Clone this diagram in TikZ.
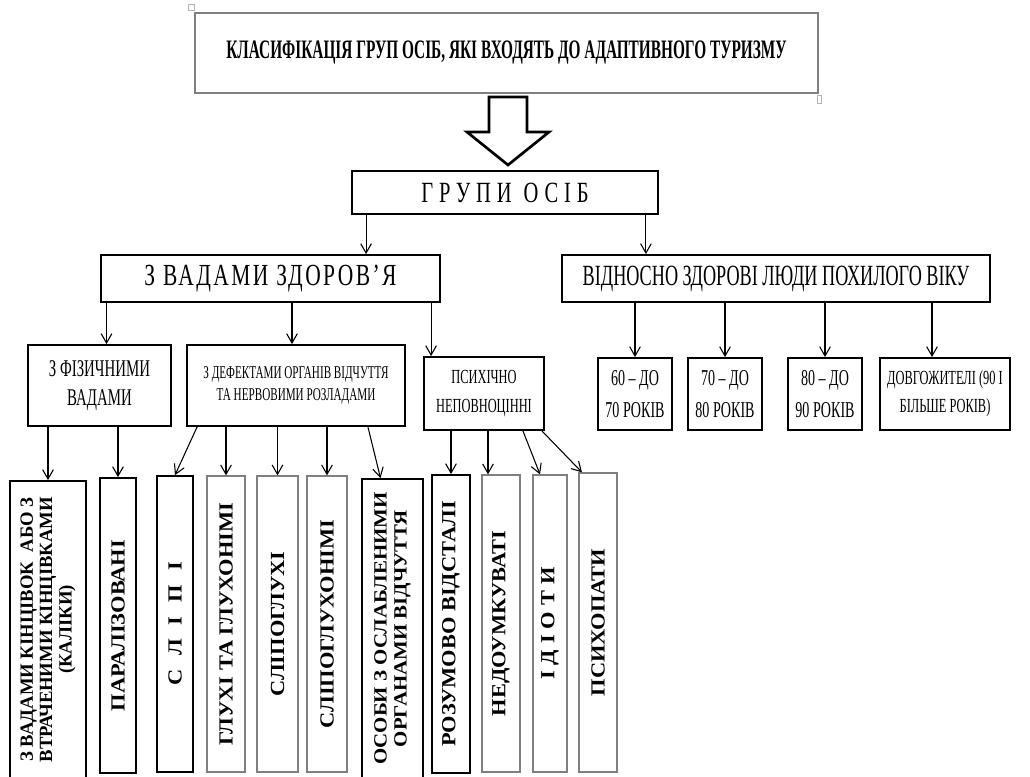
\documentclass[tikz,border=0pt]{standalone}
\usepackage{fontspec}
\setmainfont{Liberation Serif}
\newfontfamily\narrowfont[FakeStretch=0.62]{Liberation Serif}
\newfontfamily\titlefont[FakeStretch=0.575]{Liberation Serif}
\newfontfamily\widefont[FakeStretch=0.7]{Liberation Serif}
\newfontfamily\vfont[FakeStretch=1.12]{Liberation Serif}
\usetikzlibrary{arrows.meta,positioning,calc}
\definecolor{boxgray}{HTML}{808080}
\newcommand{\fsz}[2]{\fontsize{#1}{#2}\selectfont}

\begin{document}
\begin{tikzpicture}[x=0.75pt, y=-0.75pt, >={Straight Barb[length=7pt,width=8pt]},
    blk/.style={draw, line width=1.4pt, align=center, inner sep=1pt},
    vbox/.style={draw, line width=1.4pt, rotate=90, align=center, inner sep=1pt,
                 font=\vfont\bfseries\fsz{15}{15}},
    thinv/.style={vbox, draw=boxgray, line width=1pt},
    sz/.style 2 args={minimum width=#1*0.75pt, minimum height=#2*0.75pt},
    arr/.style={->, line width=0.8pt}]
  \useasboundingbox (0,0) rectangle (1030,776);

  % Title and block arrow
  \node[blk, draw=boxgray, line width=1pt, sz={623}{80},
        font=\titlefont\bfseries\fsz{20}{22}] (ttl) at (506.5,53)
        {КЛАСИФІКАЦІЯ ГРУП ОСІБ, ЯКІ ВХОДЯТЬ ДО АДАПТИВНОГО ТУРИЗМУ};
  \draw[boxgray!60, line width=0.5pt] (188,4) rectangle (194,10);
  \draw[boxgray!60, line width=0.5pt] (817,95) rectangle (821,103);
  \draw[line width=2pt, line join=miter] (489,97) -- (527,97) -- (527,132)
    -- (549,132) -- (508,165) -- (467,132) -- (489,132) -- cycle;

  % Groups
  \node[blk, sz={306}{43}, font=\widefont\fsz{22}{23}\addfontfeatures{LetterSpace=20}]
        (grp) at (505,192.5) {ГРУПИ\hspace{9pt}ОСІБ};
  \node[blk, sz={339}{47}, font=\widefont\fsz{23}{24}\addfontfeatures{LetterSpace=8}]
        (zvad) at (270.5,278.5) {З ВАДАМИ ЗДОРОВ’Я};
  \node[blk, sz={428}{47}, font=\narrowfont\fsz{22}{24}]
        (vidn) at (776,278.5) {ВІДНОСНО ЗДОРОВІ ЛЮДИ ПОХИЛОГО ВІКУ};

  % Third level
  \node[blk, sz={143}{81}, font=\narrowfont\fsz{18}{22}] (fiz) at (99.5,385.5)
        {З ФІЗИЧНИМИ\\ВАДАМИ};
  \node[blk, sz={218}{81}, font=\narrowfont\fsz{13.5}{17}] (dfk) at (296,385.5)
        {З ДЕФЕКТАМИ ОРГАНІВ ВІДЧУТТЯ\\ТА НЕРВОВИМИ РОЗЛАДАМИ};
  \node[blk, sz={120}{73}, font=\narrowfont\fsz{15}{22}] (psy) at (484,393.5)
        {ПСИХІЧНО\\НЕПОВНОЦІННІ};
  \node[blk, sz={74}{72}, font=\narrowfont\fsz{17}{24}] (a60) at (635,394)
        {60 – ДО\\70 РОКІВ};
  \node[blk, sz={74}{72}, font=\narrowfont\fsz{17}{24}] (a70) at (725,394)
        {70 – ДО\\80 РОКІВ};
  \node[blk, sz={74}{72}, font=\narrowfont\fsz{17}{24}] (a80) at (825,394)
        {80 – ДО\\90 РОКІВ};
  \node[blk, sz={130}{72}, font=\narrowfont\fsz{15}{21}] (old) at (945,394)
        {ДОВГОЖИТЕЛІ (90 І\\БІЛЬШЕ РОКІВ)};

  % Vertical boxes
  \node[vbox, sz={297}{76}, font=\bfseries\fsz{14}{14.5}]
        (v1) at (48,629.5)
        {З ВАДАМИ КІНЦІВОК\ \ АБО З\\ВТРАЧЕНИМИ КІНЦІВКАМИ\\(КАЛІКИ)};
  \node[vbox, sz={295}{36}] (v2) at (118,625.5) {ПАРАЛІЗОВАНІ};
  \node[vbox, sz={296}{36}] (v3) at (175,624)
        {С\hspace{0.7em}Л\hspace{0.7em}І\hspace{0.7em}П\hspace{0.7em}І};
  \node[thinv, sz={296}{38}] (v4) at (226,624) {ГЛУХІ ТА ГЛУХОНІМІ};
  \node[thinv, sz={296}{41}] (v5) at (277.5,624) {СЛІПОГЛУХІ};
  \node[thinv, sz={296}{40}] (v6) at (327,624) {СЛІПОГЛУХОНІМІ};
  \node[vbox, sz={299}{61}, font=\vfont\bfseries\fsz{14}{15}]
        (v7) at (392.5,628.5)
        {ОСОБИ З ОСЛАБЛЕНИМИ\\ОРГАНАМИ ВІДЧУТТЯ};
  \node[vbox, sz={298}{38}] (v8) at (451,624) {РОЗУМОВО ВІДСТАЛІ};
  \node[thinv, sz={297}{38}] (v9) at (501,623.5) {НЕДОУМКУВАТІ};
  \node[thinv, sz={297}{34}] (v10) at (550,623.5)
        {І\hspace{0.3em}Д\hspace{0.3em}І\hspace{0.3em}О\hspace{0.3em}Т\hspace{0.3em}И};
  \node[thinv, sz={299}{38}] (v11) at (598,622.5) {ПСИХОПАТИ};

  % Connectors, upper part
  \coordinate (g1) at ([shift={(15,0)}]grp.south west);
  \coordinate (g2) at ([shift={(-13,0)}]grp.south east);
  \draw[arr] (g1) -- (g1 |- zvad.north);
  \draw[arr] (g2) -- (g2 |- vidn.north);

  \coordinate (z1) at ([shift={(7,0)}]fiz.north);
  \coordinate (z2) at ([shift={(-4,0)}]dfk.north);
  \coordinate (z3) at ([shift={(8,0)}]psy.north west);
  \draw[arr] (z1 |- zvad.south) -- (z1);
  \draw[arr] (z2 |- zvad.south) -- (z2);
  \draw[arr] (z3 |- zvad.south) -- (z3);

  \coordinate (o4) at ([shift={(-13,0)}]old.north);
  \draw[arr] (a60.north |- vidn.south) -- (a60.north);
  \draw[arr] (a70.north |- vidn.south) -- (a70.north);
  \draw[arr] (a80.north |- vidn.south) -- (a80.north);
  \draw[arr] (o4 |- vidn.south) -- (o4);

  % Connectors, lower part
  \draw[arr] (v1.east |- fiz.south) -- (v1.east);
  \draw[arr] (v2.east |- fiz.south) -- (v2.east);

  \coordinate (d1) at ([shift={(11,0)}]dfk.south west);
  \coordinate (d5) at ([shift={(-38,0)}]dfk.south east);
  \coordinate (e7) at ([shift={(-12,0)}]v7.east);
  \draw[arr] (d1) -- (v3.east);
  \draw[arr] (v4.east |- dfk.south) -- (v4.east);
  \draw[arr] (v5.east |- dfk.south) -- (v5.east);
  \draw[arr] (v6.east |- dfk.south) -- (v6.east);
  \draw[arr] (d5) -- (e7);

  \coordinate (e9) at ([shift={(-13,0)}]v9.east);
  \coordinate (p3) at ([shift={(-22,0)}]psy.south east);
  \coordinate (e10) at ([shift={(-10,0)}]v10.east);
  \coordinate (p4) at ([shift={(-3,0)}]psy.south east);
  \coordinate (e11) at ([shift={(-16,0)}]v11.east);
  \draw[arr] (v8.east |- psy.south) -- (v8.east);
  \draw[arr] (e9 |- psy.south) -- (e9);
  \draw[arr] (p3) -- (e10);
  \draw[arr] (p4) -- (e11);
\end{tikzpicture}
\end{document}
